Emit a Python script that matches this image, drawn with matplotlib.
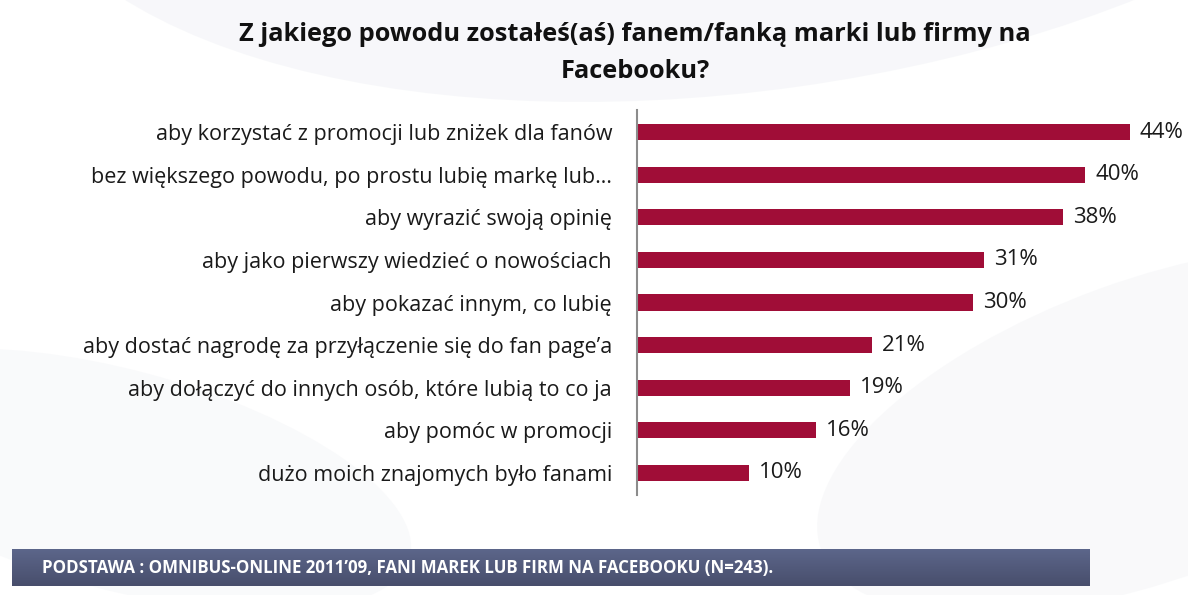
import matplotlib
matplotlib.use("Agg")
import matplotlib.pyplot as plt
import matplotlib.patches as patches
import numpy as np

plt.rcParams['font.family'] = ['Open Sans', 'DejaVu Sans']

kategorie = [
    "aby korzystać z promocji lub zniżek dla fanów",
    "bez większego powodu, po prostu lubię markę lub…",
    "aby wyrazić swoją opinię",
    "aby jako pierwszy wiedzieć o nowościach",
    "aby pokazać innym, co lubię",
    "aby dostać nagrodę za przyłączenie się do fan page’a",
    "aby dołączyć do innych osób, które lubią to co ja",
    "aby pomóc w promocji",
    "dużo moich znajomych było fanami",
]
wartosci = [44, 40, 38, 31, 30, 21, 19, 16, 10]

tytul = "Z jakiego powodu zostałeś(aś) fanem/fanką marki lub firmy na\nFacebooku?"
podstawa = "PODSTAWA : OMNIBUS-ONLINE 2011’09, FANI MAREK LUB FIRM NA FACEBOOKU (N=243)."

W, H = 1188, 595
fig = plt.figure(figsize=(W / 100, H / 100), dpi=100)
fig.patch.set_facecolor('white')

# delikatne tło (szare łuki)
bg = fig.add_axes([0, 0, 1, 1], zorder=-10)
bg.set_xlim(0, W)
bg.set_ylim(H, 0)
bg.axis('off')
bg.add_patch(patches.Ellipse((750, -260), 1500, 700, angle=-8, facecolor='#f4f5f8', alpha=0.7, lw=0))
bg.add_patch(patches.Ellipse((1150, 430), 700, 300, angle=-20, facecolor='#f5f6f8', alpha=0.6, lw=0))
bg.add_patch(patches.Ellipse((120, 480), 600, 220, angle=15, facecolor='#f6f7f9', alpha=0.6, lw=0))

# wykres
x0, x1 = 637, 1188
y_top, y_bot = 110, 495
ax = fig.add_axes([x0 / W, 1 - y_bot / H, (x1 - x0) / W, (y_bot - y_top) / H])
ax.patch.set_alpha(0)
n = len(kategorie)
y = np.arange(n)
ax.barh(y, wartosci, height=0.38, color='#A00D37')
ax.set_xlim(0, (x1 - x0) / 11.2)
ax.set_ylim(n - 1 + 0.52, -0.52)
for s in ['top', 'right', 'bottom']:
    ax.spines[s].set_visible(False)
ax.spines['left'].set_color('#8c8c8c')
ax.spines['left'].set_linewidth(1.5)
ax.set_xticks([])
ax.set_yticks(y)
ax.set_yticklabels(kategorie, fontsize=15.5, color='#1a1a1a')
ax.tick_params(axis='y', length=0, pad=18)
for yi, v in zip(y, wartosci):
    ax.text(v + 0.9, yi, f"{v}%", va='center', ha='left', fontsize=16, color='#1a1a1a')

fig.text(635 / W, 1 - 53 / H, tytul, ha='center', va='center', fontsize=18.3,
         fontweight='bold', color='#111111', linespacing=1.6)

# pasek z podstawą
ban = fig.add_axes([12 / W, 1 - 586 / H, (1090 - 12) / W, 37 / H])
grad = np.linspace(0, 1, 50).reshape(-1, 1)
top = np.array([0x5c, 0x66, 0x8a]) / 255
bot = np.array([0x48, 0x4e, 0x6c]) / 255
img = top + (bot - top) * grad[..., None]
ban.imshow(img, aspect='auto', extent=[0, 1, 0, 1], origin='upper')
ban.axis('off')
ban.text(30 / 1078, 0.5, podstawa, ha='left', va='center', fontsize=12.2,
         fontweight='bold', color='white', transform=ban.transAxes)

fig.savefig('out.png', dpi=100)
